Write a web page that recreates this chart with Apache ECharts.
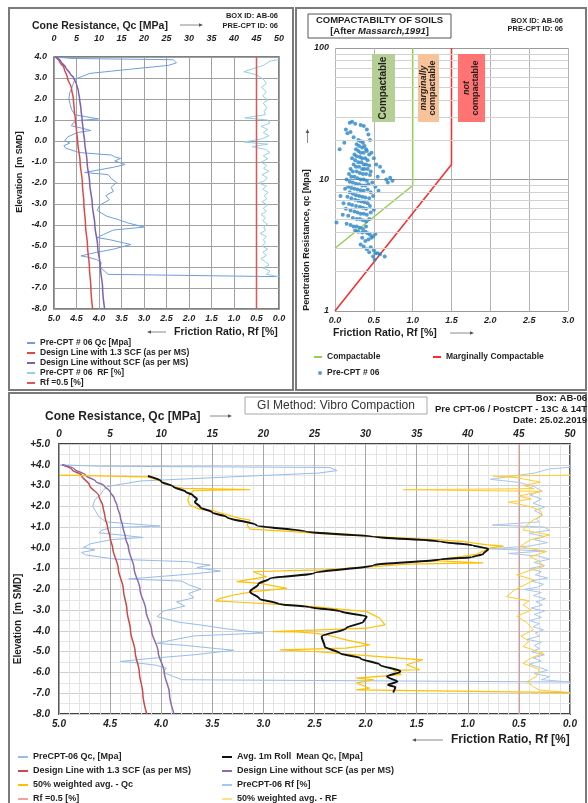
<!DOCTYPE html>
<html>
<head>
<meta charset="utf-8">
<script src="https://cdn.jsdelivr.net/npm/echarts@6/dist/echarts.min.js"></script>
<style>
  html, body { margin: 0; padding: 0; background: #fff; }
  #chart { width: 588px; height: 803px; }
</style>
</head>
<body>
<div id="chart"></div>
<script>
// ---- data ---------------------------------------------------------------
// pairs are [Qc MPa, elevation m SMD] or [Rf %, elevation m SMD]
const preQc = [
  [0,4.0],[4,3.93],[26.5,3.87],[27.2,3.72],[25.4,3.6],[17,3.42],[8,3.22],[4.7,2.95],[4.3,2.75],[4.1,2.6],
  [3.5,2.3],[3.3,2.0],[3.6,1.75],[3.9,1.5],[4.6,1.25],[9.9,1.05],[5.0,0.97],[4.2,0.85],[3.9,0.72],[6.0,0.62],
  [8.2,0.5],[5.2,0.4],[3.1,0.2],[2.4,0.02],[3.5,-0.1],[2.2,-0.22],[2.6,-0.34],[5.6,-0.55],[12.8,-0.67],[13.4,-0.75],
  [14.8,-0.83],[13.5,-0.95],[15.8,-1.12],[13.2,-1.25],[6.8,-1.5],[12.0,-1.6],[12.8,-1.8],[13.9,-1.98],[12.7,-2.2],[13.2,-2.4],
  [11.5,-2.6],[12.3,-2.8],[10.2,-3.05],[9.6,-3.31],[11.7,-3.58],[13.8,-3.71],[16.4,-3.9],[20.0,-4.1],[13.2,-4.24],[11.0,-4.45],
  [9.6,-4.6],[12.4,-4.7],[15.4,-4.85],[17.1,-4.93],[13.2,-5.15],[9.5,-5.3],[6.0,-5.47],[7.3,-5.52],[9.5,-5.65],[10.5,-5.79],
  [10.2,-6.0],[11.2,-6.19],[12.0,-6.35],[50,-6.46]
];
const preRf = [
  [0.0,3.88],[0.2,3.8],[0.35,3.6],[0.78,3.3],[0.5,3.15],[0.35,2.95],[0.28,2.75],[0.39,2.55],[0.28,2.35],[0.36,2.15],
  [0.25,1.95],[0.35,1.8],[0.27,1.6],[0.33,1.4],[0.3,1.25],[0.76,1.1],[0.25,1.0],[0.2,0.85],[0.4,0.7],[0.25,0.55],
  [0.35,0.4],[0.22,0.25],[0.38,0.1],[0.78,-0.05],[0.25,-0.15],[0.6,-0.27],[0.3,-0.4],[0.2,-0.55],[0.35,-0.7],[0.25,-0.85],
  [0.4,-1.0],[0.28,-1.15],[0.34,-1.3],[0.22,-1.45],[0.38,-1.6],[0.26,-1.75],[0.32,-1.9],[0.45,-2.0],[0.28,-2.15],[0.36,-2.3],
  [0.24,-2.45],[0.33,-2.6],[0.27,-2.75],[0.38,-2.9],[0.25,-3.05],[0.35,-3.2],[0.28,-3.35],[0.4,-3.5],[0.3,-3.65],[0.36,-3.8],
  [0.26,-3.95],[0.34,-4.1],[0.3,-4.25],[0.42,-4.4],[0.28,-4.55],[0.35,-4.7],[0.3,-4.85],[0.38,-5.0],[0.25,-5.15],[0.36,-5.3],
  [0.28,-5.45],[0.4,-5.6],[0.3,-5.75],[0.22,-5.9],[0.35,-6.05],[0.2,-6.2],[0.28,-6.35],[0.0,-6.46]
];
const designScf = [
  [0.3,4.0],[1.3,3.75],[2.2,3.5],[3.0,3.0],[3.9,2.5],[4.3,2.0],[4.5,1.5],[4.75,1.0],[5.0,0.5],[5.25,0.0],
  [5.8,-1],[6.3,-2],[6.65,-3],[7.0,-4],[7.45,-5],[7.86,-6],[8.2,-7],[8.58,-8]
];
const designNoScf = [
  [0.3,4.0],[1.5,3.8],[2.6,3.5],[3.6,3.2],[4.4,3.0],[5.0,2.7],[5.4,2.4],[5.7,2.0],[6.0,1.5],[6.25,1.0],
  [6.5,0.5],[6.8,0.0],[7.35,-1],[7.93,-2],[8.5,-3],[9.07,-4],[9.7,-5],[10.3,-6],[10.8,-7],[11.25,-8]
];
const rollMeanQc = [
  [8.7,3.46],[10.0,3.2],[11.2,2.94],[12.4,2.7],[13.1,2.53],[13.5,2.35],[13.3,2.21],[13.8,1.97],[15.0,1.7],[16.4,1.49],
  [19.3,1.09],[24.2,0.78],[30.8,0.54],[37.3,0.3],[40.5,0.12],[42.0,-0.05],[41.5,-0.3],[40.4,-0.45],[37.3,-0.55],[30.8,-0.83],
  [24.9,-1.23],[20.6,-1.47],[19.5,-1.75],[18.7,-2.11],[19.6,-2.45],[21.5,-2.7],[24.5,-2.85],[27.5,-3.05],[30.1,-3.31],[29.8,-3.55],
  [28.1,-3.87],[25.7,-4.27],[26.0,-4.75],[27.5,-5.08],[29.5,-5.31],[31.4,-5.63],[33.4,-5.95],[32.1,-6.2],[33.1,-6.44],[32.2,-6.6],
  [32.9,-6.7],[32.7,-6.96]
];
const weightedQc = [
  [0.1,3.5],[8.7,3.42],[10.5,3.12],[11.2,2.94],[12.2,2.86],[18.7,2.8],[13.2,2.76],[12.8,2.6],[12.6,2.3],[12.8,2.06],
  [13.8,1.85],[15.1,1.8],[15.4,1.74],[17.7,1.42],[18.7,1.34],[18.4,1.1],[18.7,0.9],[22.9,0.78],[27.5,0.62],[32.4,0.51],
  [37.3,0.38],[39.6,0.3],[41.9,0.14],[43.5,0.08],[42.2,0.0],[40.9,-0.3],[36.6,-0.62],[41.5,-0.72],[34.0,-0.78],[30.8,-0.9],
  [25.9,-1.06],[22.6,-1.1],[19.0,-1.15],[20.3,-1.39],[17.4,-1.63],[19.7,-1.71],[22.3,-1.95],[19.0,-2.11],[17.1,-2.27],[15.8,-2.43],
  [15.3,-2.55],[17.7,-2.62],[22.3,-2.75],[24.9,-2.83],[30.1,-3.07],[31.4,-3.39],[31.9,-3.71],[30.1,-3.87],[20.9,-4.03],[23.3,-4.05],
  [24.9,-4.11],[26.2,-4.19],[28.1,-4.43],[30.4,-4.67],[28.1,-4.83],[21.6,-4.91],[24.9,-4.99],[29.1,-5.15],[35.6,-5.39],[34.0,-5.63],
  [35.3,-5.87],[32.7,-5.9],[33.5,-6.1],[29.1,-6.27],[30.8,-6.35],[29.1,-6.51],[30.4,-6.76],[29.1,-6.84],[50,-6.97]
];
const weightedRf = [
  [0.0,3.5],[0.75,3.45],[0.52,3.38],[0.29,3.16],[0.45,3.0],[0.35,2.85],[1.63,2.8],[0.27,2.72],[0.5,2.5],[0.38,2.35],
  [0.6,2.2],[0.4,2.0],[0.29,1.8],[0.27,1.55],[0.36,1.34],[0.42,1.1],[0.46,0.86],[0.2,0.62],[0.39,0.38],[0.49,0.06],
  [0.23,-0.18],[0.39,-0.42],[0.3,-0.65],[0.26,-0.9],[0.4,-1.1],[0.52,-1.3],[0.35,-1.55],[0.45,-1.8],[0.55,-2.05],[0.62,-2.35],
  [0.4,-2.55],[0.46,-2.75],[0.38,-3.0],[0.52,-3.3],[0.42,-3.6],[0.36,-3.95],[0.48,-4.25],[0.4,-4.5],[0.46,-4.75],[0.26,-5.08],
  [0.38,-5.3],[0.46,-5.56],[0.3,-5.85],[0.33,-6.2],[0.42,-6.45],[0.36,-6.68],[0.3,-6.85],[0.0,-6.97]
];
const rfLimitTop = [[0.5,-8],[0.5,4]];
const rfLimitBottom = [[0.5,-8],[0.5,5]];

// Massarch (1991) compactability boundaries, [Rf %, qc MPa]
const compactableLine = [[0,3],[1,9],[1,100]];
const marginalLine = [[0,1],[1.5,13],[1.5,100]];
const logMinor = [2,3,4,5,6,7,8,9,20,30,40,50,60,70,80,90];
// Pre-CPT #06 points, [Rf %, qc MPa]
const scatterPts = [
  [0.19,27],[0.22,27.5],[0.26,26.5],[0.33,26],[0.37,25.5],[0.14,24],[0.16,22.5],[0.20,23],[0.24,21],[0.41,24],
  [0.43,22],[0.45,20],[0.06,17],[0.12,19],[0.30,20],[0.33,19.5],[0.36,19],[0.28,18.5],[0.31,18],[0.35,17.5],
  [0.38,18],[0.40,17],[0.27,17],[0.30,16.5],[0.33,16],[0.37,16],[0.41,16.5],[0.44,15.5],[0.47,16],[0.50,14.5],
  [0.25,15.5],[0.28,15],[0.32,14.8],[0.35,14.5],[0.39,14.5],[0.42,14],[0.22,14.5],[0.26,14],[0.30,13.5],[0.34,13.5],
  [0.37,13],[0.40,13],[0.44,12.8],[0.53,13],[0.58,12.5],[0.24,13],[0.27,12.5],[0.31,12.5],[0.35,12],[0.38,12],
  [0.42,12],[0.46,11.5],[0.62,11.5],[0.20,12],[0.23,11.5],[0.28,11.5],[0.32,11.2],[0.36,11],[0.40,11],[0.45,10.8],
  [0.55,10.5],[0.66,10],[0.71,10.3],[0.74,9.8],[0.68,9.5],[0.18,11],[0.21,10.5],[0.25,10.5],[0.29,10.2],[0.33,10],
  [0.37,10],[0.41,9.8],[0.15,10],[0.19,9.6],[0.23,9.5],[0.27,9.3],[0.31,9.2],[0.35,9],[0.39,9],[0.43,9.2],
  [0.48,9.5],[0.52,8.8],[0.17,8.8],[0.21,8.6],[0.25,8.5],[0.29,8.4],[0.33,8.3],[0.37,8.2],[0.42,8.4],[0.46,8],
  [0.56,8.2],[0.13,8.5],[0.19,8],[0.23,7.8],[0.27,7.6],[0.31,7.5],[0.35,7.4],[0.39,7.3],[0.44,7.2],[0.49,7.5],
  [0.16,7.4],[0.21,7.2],[0.26,7],[0.30,6.9],[0.34,6.8],[0.38,6.7],[0.42,6.6],[0.07,7.5],[0.11,6.6],[0.18,6.5],
  [0.22,6.4],[0.27,6.3],[0.32,6.2],[0.36,6.1],[0.40,6],[0.45,6.3],[0.50,5.9],[0.14,6],[0.20,5.8],[0.25,5.7],
  [0.29,5.6],[0.33,5.5],[0.37,5.5],[0.41,5.4],[0.46,5.6],[0.10,5.4],[0.17,5.3],[0.23,5.1],[0.28,5.0],[0.32,5.0],
  [0.36,4.9],[0.40,4.8],[0.44,5.0],[0.02,4.7],[0.15,4.6],[0.20,4.5],[0.24,4.4],[0.28,4.4],[0.32,4.3],[0.36,4.2],
  [0.40,4.4],[0.26,4.1],[0.30,4.0],[0.35,3.95],[0.39,4.0],[0.42,3.9],[0.45,3.8],[0.49,3.7],[0.52,3.85],[0.47,3.6],
  [0.43,3.5],[0.39,3.4],[0.35,3.6],[0.33,3.2],[0.37,3.1],[0.41,2.95],[0.44,2.8],[0.46,3.05],[0.50,2.9],[0.52,2.75],
  [0.55,2.75],[0.49,2.6],[0.58,2.7],[0.64,2.6],[0.51,2.45]
];

// ---- helpers --------------------------------------------------------------
const FONT = '"Liberation Sans", Arial, Helvetica, sans-serif';
const INK = '#1f1f1f';

function tickLabel(size, fmt, margin) {
  return { fontSize: size, fontWeight: 'bold', fontStyle: 'italic', color: INK,
    fontFamily: FONT, formatter: fmt, margin: margin };
}
const fix1 = (v) => v.toFixed(1);
const hideTick = { show: false };
const split = (c) => ({ show: true, lineStyle: { color: c, width: 1 } });
// elevation is monotonic along every profile, so smooth along y only
const smoothY = { smooth: 0.3, smoothMonotone: 'y' };

function line(name, data, xi, yi, color, width, extra) {
  return Object.assign({
    name, type: 'line', data, xAxisIndex: xi, yAxisIndex: yi,
    showSymbol: false, symbol: 'none', animation: false,
    lineStyle: { color, width }, itemStyle: { color }, z: 3,
  }, extra || {});
}

function text(x, y, str, size, opts) {
  const o = opts || {};
  return {
    type: 'text', x, y, rotation: o.rotation || 0, z: 20,
    style: {
      text: str, fill: o.color || INK,
      font: (o.italic ? 'italic ' : '') + (o.normal ? 'normal ' : 'bold ') + size + 'px ' + FONT,
      textAlign: o.align || 'left', align: o.align || 'left',
      textVerticalAlign: 'middle', verticalAlign: 'middle',
      rich: o.rich,
    },
  };
}

function rect(x, y, w, h, fill, stroke, lw, z) {
  return { type: 'rect', shape: { x, y, width: w, height: h }, z: z || 1,
    style: { fill: fill || 'none', stroke: stroke || 'none', lineWidth: lw || 1 } };
}

// thin grey arrow, from (x1,y1) to (x2,y2) with a small head at the end
function arrow(x1, y1, x2, y2) {
  const a = Math.atan2(y2 - y1, x2 - x1), L = 4, W = 1.8;
  const bx = x2 - L * Math.cos(a), by = y2 - L * Math.sin(a);
  return [
    { type: 'line', z: 20, shape: { x1, y1, x2: bx, y2: by }, style: { stroke: '#8a8a8a', lineWidth: 1 } },
    { type: 'polygon', z: 20, shape: { points: [[x2, y2],
      [bx - W * Math.sin(a), by + W * Math.cos(a)], [bx + W * Math.sin(a), by - W * Math.cos(a)]] },
      style: { fill: '#555' } },
  ];
}

function legendBox(left, top, items, opts) {
  const o = opts || {};
  return {
    left, top, width: 260, height: 80, orient: 'vertical', padding: 0, itemGap: o.gap || 0,
    itemWidth: o.w || 10, itemHeight: o.h || 2, icon: o.icon || 'rect',
    selectedMode: false,
    textStyle: { fontFamily: FONT, fontWeight: 'bold', fontSize: o.size || 9, color: INK,
      lineHeight: o.lh || 10 },
    data: items.map(([name, color]) => ({ name, icon: o.icon || 'rect', itemStyle: { color } })),
  };
}

// ---- colours --------------------------------------------------------------
const C = {
  tlQc: '#6e9fdc', tlRf: '#93d2e2', red: '#e04848', purple: '#7e5fb3', tlLimit: '#e05555',
  bQc: '#97bce9', bRf: '#a9c6ec', bRed: '#c94a48', bPurple: '#8a6bb0', bLimit: '#f2a3a3',
  black: '#111111', amber: '#ffc000', amberRf: '#ffcb2e',
  scatter: '#2a86c8', green: '#92d050', redLine: '#ff2a2a',
};

// ---- chart ------------------------------------------------------------------
const chart = echarts.init(document.getElementById('chart'), null, { renderer: 'canvas' });

const grids = [
  { left: 54, top: 57, width: 225, height: 252, show: true, borderColor: '#555', borderWidth: 1.5,
    backgroundColor: 'transparent', containLabel: false, outerBoundsMode: 'none' },
  { left: 335, top: 48, width: 233, height: 263, show: false, containLabel: false, outerBoundsMode: 'none' },
  { left: 59, top: 444, width: 511, height: 270, show: true, borderColor: '#444', borderWidth: 1.8,
    backgroundColor: 'transparent', containLabel: false, outerBoundsMode: 'none' },
];

const xAxes = [
  { gridIndex: 0, type: 'value', position: 'top', min: 0, max: 50, interval: 5,
    axisLine: { show: false }, axisTick: hideTick, axisLabel: tickLabel(9, null, 14),
    splitLine: split('#a0a0a0') },
  { gridIndex: 0, type: 'value', position: 'bottom', min: 0, max: 5, interval: 0.5, inverse: true,
    axisLine: { show: false }, axisTick: hideTick, axisLabel: tickLabel(9, fix1, 5),
    splitLine: { show: false } },
  { gridIndex: 1, type: 'value', position: 'bottom', min: 0, max: 3, interval: 0.5,
    axisLine: { show: false }, axisTick: hideTick, axisLabel: tickLabel(9, fix1, 5),
    splitLine: split('#b4b4b4') },
  { gridIndex: 2, type: 'value', position: 'top', min: 0, max: 50, interval: 5,
    axisLine: { show: false }, axisTick: hideTick, axisLabel: tickLabel(10, null, 5),
    splitLine: split('#a6a6a6'),
    minorTick: { show: false, splitNumber: 5 },
    minorSplitLine: { show: true, lineStyle: { color: '#e3e3e3', width: 1 } } },
  { gridIndex: 2, type: 'value', position: 'bottom', min: 0, max: 5, interval: 0.5, inverse: true,
    axisLine: { show: false }, axisTick: hideTick, axisLabel: tickLabel(10, fix1, 5),
    splitLine: { show: false } },
];

const yAxes = [
  { gridIndex: 0, type: 'value', min: -8, max: 4, interval: 1,
    axisLine: { show: false }, axisTick: hideTick, axisLabel: tickLabel(9, fix1, 7),
    splitLine: split('#a0a0a0') },
  { gridIndex: 1, type: 'log', logBase: 10, min: 1, max: 100,
    axisLine: { show: false }, axisTick: hideTick, axisLabel: tickLabel(9, null, 6),
    splitLine: split('#9a9a9a') },
  { gridIndex: 2, type: 'value', min: -8, max: 5, interval: 1,
    axisLine: { show: false }, axisTick: hideTick,
    axisLabel: tickLabel(10, (v) => (v >= 0 ? '+' + Math.abs(v).toFixed(1) : v.toFixed(1)), 9),
    splitLine: split('#cfcfcf'),
    minorTick: { show: false, splitNumber: 2 },
    minorSplitLine: { show: true, lineStyle: { color: '#e6e6e6', width: 1 } } },
];

const series = [
  // top-left: pre-CPT profile
  line('Pre-CPT # 06 Qc [Mpa]', preQc, 0, 0, C.tlQc, 1),
  line('Design Line with 1.3 SCF (as per MS)', designScf, 0, 0, C.red, 1.5, smoothY),
  line('Design Line without SCF (as per MS)', designNoScf, 0, 0, C.purple, 1.5, smoothY),
  line('Pre-CPT # 06  RF [%]', preRf, 1, 0, C.tlRf, 1),
  line('Rf =0.5 [%]', rfLimitTop, 1, 0, C.tlLimit, 1.5),

  // top-right: compactability chart
  line('Compactable', compactableLine, 2, 1, C.green, 1.5, {
    z: 2,
    markLine: { silent: true, symbol: 'none', animation: false, label: { show: false },
      lineStyle: { color: '#d2d2d2', width: 1, type: 'solid' },
      data: logMinor.map((v) => ({ yAxis: v })) },
  }),
  line('Marginally Compactable', marginalLine, 2, 1, C.redLine, 1.5),
  { name: 'Pre-CPT # 06', type: 'scatter', data: scatterPts, xAxisIndex: 2, yAxisIndex: 1,
    symbolSize: 4, itemStyle: { color: C.scatter }, animation: false, z: 4 },

  // bottom: pre / post comparison
  line('PreCPT-06 Qc, [Mpa]', preQc, 3, 2, C.bQc, 1),
  line('PreCPT-06 Rf [%]', preRf, 4, 2, C.bRf, 1),
  line('Design Line with 1.3 SCF (as per MS)', designScf, 3, 2, C.bRed, 1.5, smoothY),
  line('Design Line without SCF (as per MS)', designNoScf, 3, 2, C.bPurple, 1.5, smoothY),
  line('Rf =0.5 [%]', rfLimitBottom, 4, 2, C.bLimit, 1),
  line('50% weighted avg. - RF', weightedRf, 4, 2, C.amberRf, 1),
  line('50% weighted avg. - Qc', weightedQc, 3, 2, C.amber, 1.2),
  line('Avg. 1m Roll  Mean Qc, [Mpa]', rollMeanQc, 3, 2, C.black, 2, Object.assign({ z: 5 }, smoothY)),
];

const legends = [
  legendBox(27, 338, [
    ['Pre-CPT # 06 Qc [Mpa]', C.tlQc],
    ['Design Line with 1.3 SCF (as per MS)', C.red],
    ['Design Line without SCF (as per MS)', C.purple],
    ['Pre-CPT # 06  RF [%]', C.tlRf],
    ['Rf =0.5 [%]', C.tlLimit],
  ], { w: 8, size: 8.5, lh: 10 }),
  legendBox(314, 352, [['Compactable', C.green]], { w: 8, size: 8.5 }),
  legendBox(433, 352, [['Marginally Compactable', C.redLine]], { w: 8, size: 8.5 }),
  legendBox(318, 368, [['Pre-CPT # 06', C.scatter]], { w: 4, h: 4, icon: 'circle', size: 8.5 }),
  legendBox(18, 751, [
    ['PreCPT-06 Qc, [Mpa]', C.bQc],
    ['Design Line with 1.3 SCF (as per MS)', C.bRed],
    ['50% weighted avg. - Qc', C.amber],
    ['Rf =0.5 [%]', C.bLimit],
  ], { w: 10, size: 9, lh: 12, gap: 2 }),
  legendBox(222, 751, [
    ['Avg. 1m Roll  Mean Qc, [Mpa]', C.black],
    ['Design Line without SCF (as per MS)', C.bPurple],
    ['PreCPT-06 Rf [%]', C.bRf],
    ['50% weighted avg. - RF', '#ffe08a'],
  ], { w: 10, size: 9, lh: 12, gap: 2 }),
];

const richIt = (size) => ({
  b: { fontFamily: FONT, fontWeight: 'bold', fontSize: size, fill: INK, color: INK },
  i: { fontFamily: FONT, fontWeight: 'bold', fontStyle: 'italic', fontSize: size, fill: INK, color: INK },
});

const graphics = [
  // panel frames
  rect(9, 8, 284, 382, 'none', '#7a7a7a', 2),
  rect(296, 8, 290, 382, 'none', '#7a7a7a', 2),
  rect(9, 393, 577, 420, 'none', '#7a7a7a', 2),

  // top-left annotations
  text(32, 26, 'Cone Resistance, Qc [MPa]', 10.5),
  ...arrow(180, 25, 203, 25),
  text(278, 16, 'BOX ID: AB-06', 7.5, { align: 'right' }),
  text(278, 26, 'PRE-CPT ID: 06', 7.5, { align: 'right' }),
  text(20, 172, 'Elevation  [m SMD]', 9, { align: 'center', rotation: Math.PI / 2 }),
  text(174, 332, 'Friction Ratio, Rf [%]', 10.5),
  ...arrow(166, 332, 147, 332),

  // top-right annotations
  rect(308, 14, 143, 24, '#fff', '#555', 1, 5),
  text(379.5, 20.5, 'COMPACTABILTY OF SOILS', 9.5, { align: 'center' }),
  text(379.5, 31, '{b|[After }{i|Massarch,1991}{b|]}', 9.5, { align: 'center', rich: richIt(9.5) }),
  text(563, 21, 'BOX ID: AB-06', 7.5, { align: 'right' }),
  text(563, 29, 'PRE-CPT ID: 06', 7.5, { align: 'right' }),
  rect(372, 54, 23, 68, '#b6cf94', null, 1, 10),
  text(383.5, 88, 'Compactable', 10, { align: 'center', rotation: Math.PI / 2 }),
  rect(418, 54, 21, 68, '#f8c39a', null, 1, 10),
  text(428.5, 88, '{i|marginally}\n{b|compactable}', 9, { align: 'center', rotation: Math.PI / 2, rich: richIt(9) }),
  rect(458, 54, 27, 68, '#ff7373', null, 1, 10),
  text(471.5, 88, '{i|not}\n{b|compactable}', 9, { align: 'center', rotation: Math.PI / 2, rich: richIt(9) }),
  text(307, 240, 'Penetration Resistance, qc [Mpa]', 9, { align: 'center', rotation: Math.PI / 2 }),
  ...arrow(307.5, 143, 307.5, 129),
  text(333, 333, 'Friction Ratio, Rf [%]', 10.5),
  ...arrow(450, 333, 474, 333),

  // bottom annotations
  rect(245, 397, 182, 17, '#fff', '#a8a8a8', 1, 5),
  text(336, 405.5, 'GI Method: Vibro Compaction', 12, { align: 'center', normal: true, color: '#333' }),
  text(45, 417, 'Cone Resistance, Qc [MPa]', 12),
  ...arrow(210, 416, 232, 416),
  text(587, 398, 'Box: AB-06', 9.5, { align: 'right' }),
  text(587, 409, 'Pre CPT-06 / PostCPT - 13C & 14T', 9.5, { align: 'right' }),
  text(587, 420, 'Date: 25.02.2019', 9.5, { align: 'right' }),
  text(18, 619, 'Elevation  [m SMD]', 10, { align: 'center', rotation: Math.PI / 2 }),
  text(451, 740, 'Friction Ratio, Rf [%]', 12),
  ...arrow(443, 740, 412, 740),
];

chart.setOption({
  animation: false,
  backgroundColor: '#fff',
  textStyle: { fontFamily: FONT },
  grid: grids,
  xAxis: xAxes,
  yAxis: yAxes,
  legend: legends,
  series,
  graphic: { elements: graphics },
});
</script>
</body>
</html>
